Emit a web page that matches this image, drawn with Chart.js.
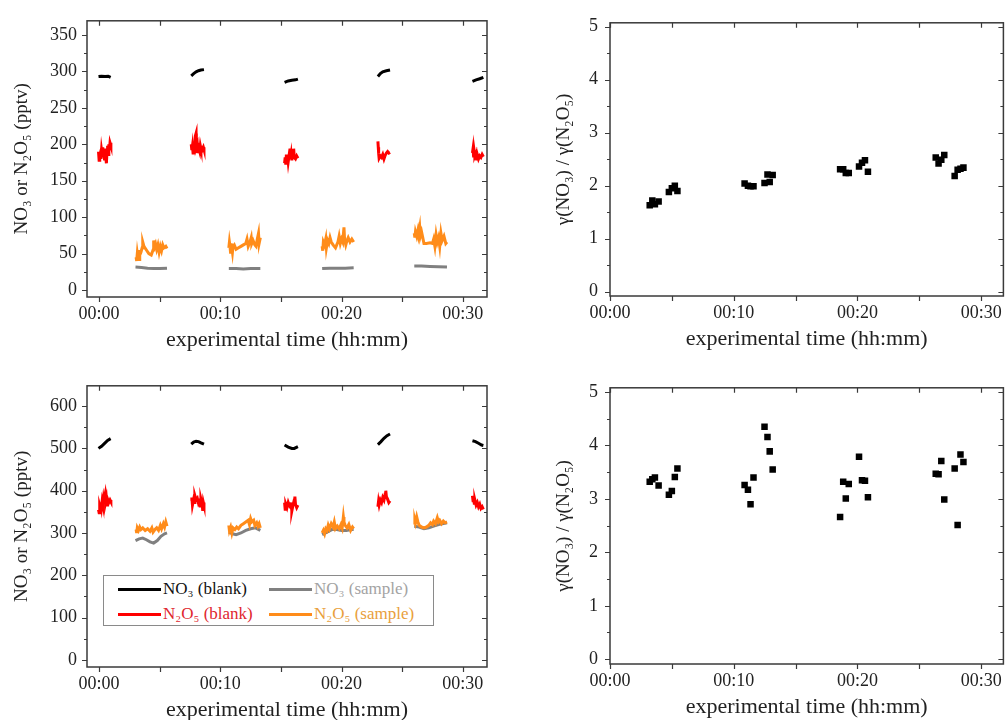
<!DOCTYPE html>
<html>
<head>
<meta charset="utf-8">
<script src="https://cdn.jsdelivr.net/npm/chart.js@4.4.1/dist/chart.umd.min.js"></script>
<style>
  body { margin: 0; width: 1008px; height: 720px; overflow: hidden; position: relative; background: #fff; font-family: "Liberation Serif", "Times New Roman", serif; }
  .panel { position: absolute; }
  #legend { position: absolute; left: 103px; top: 575px; width: 331px; height: 51px; border: 1px solid #8a8a8a; background: #fff; box-sizing: border-box; }
  .item { position: absolute; height: 20px; display: flex; align-items: center; font-size: 17px; white-space: nowrap; }
  .item span.ln { display: inline-block; width: 43px; height: 3px; margin-right: 2px; }
</style>
</head>
<body>
<div class="panel" style="left:0;top:0"><canvas id="tl" width="504" height="360"></canvas></div>
<div class="panel" style="left:540px;top:0"><canvas id="tr" width="468" height="359"></canvas></div>
<div class="panel" style="left:0;top:365px"><canvas id="bl" width="504" height="365"></canvas></div>
<div class="panel" style="left:540px;top:365px"><canvas id="br" width="468" height="362"></canvas></div>
<div id="legend"></div>
<script>
// ---- axes ----
const xTicks = [0, 5, 10, 15, 20, 25, 30];
const xLabels = ['00:00', '', '00:10', '', '00:20', '', '00:30'];
const yTicksTop = [0, 25, 50, 75, 100, 125, 150, 175, 200, 225, 250, 275, 300, 325, 350];
const yLabelsTop = ['0', '', '50', '', '100', '', '150', '', '200', '', '250', '', '300', '', '350'];
const yTicksBot = [0, 50, 100, 150, 200, 250, 300, 350, 400, 450, 500, 550, 600];
const yLabelsBot = ['0', '', '100', '', '200', '', '300', '', '400', '', '500', '', '600'];
const yTicksRatio = [0, 0.5, 1, 1.5, 2, 2.5, 3, 3.5, 4, 4.5, 5];
const yLabelsRatio = ['0', '', '1', '', '2', '', '3', '', '4', '', '5'];

const seriesNames = ['NO₃ (blank)', 'NO₃ (sample)', 'N₂O₅ (blank)', 'N₂O₅ (sample)'];
const lineColors = ['#000000', '#808080', '#ff0000', '#ff8c1a'];
const textColors = ['#111111', '#a3a3a3', '#e0262e', '#e9a03c'];

// ---- top left: [minutes, pptv], null value = gap ----
const no3BlankTop = [
  [-0.05, 293], [0.2, 293.5], [0.5, 293], [0.75, 293.5], [0.95, 292], [1.0, null],
  [7.6, 294], [7.8, 297], [8.0, 299.5], [8.2, 301], [8.4, 302], [8.65, 302.5], [8.7, null],
  [15.3, 285], [15.6, 287], [15.9, 288], [16.2, 288.5], [16.4, 289.5], [16.5, null],
  [23.0, 293], [23.2, 297], [23.4, 299.5], [23.7, 301], [24.0, 302], [24.1, null],
  [30.8, 286.5], [31.1, 288.5], [31.4, 290], [31.7, 292]
];
const no3SampleTop = [
  [3.0, 31.5], [3.5, 31], [4.0, 30], [4.5, 29.5], [5.0, 29.5], [5.6, 30], [5.7, null],
  [10.7, 29.5], [11.3, 29.5], [11.9, 29], [12.5, 29.5], [13.3, 29.5], [13.4, null],
  [18.4, 29.5], [19.0, 30], [19.6, 30], [20.3, 30], [21.0, 30.5], [21.1, null],
  [26.0, 33], [26.6, 33], [27.3, 32.5], [28.0, 32], [28.7, 31.5]
];
const n2o5BlankTop = [
  [-0.05, 190], [0.0, 178], [0.05, 185], [0.1, 188], [0.15, 180], [0.2, 192], [0.25, 186], [0.3, 196],
  [0.35, 184], [0.4, 190], [0.45, 178], [0.5, 194], [0.55, 182], [0.6, 174], [0.65, 190], [0.7, 198],
  [0.75, 186], [0.8, 200], [0.85, 192], [0.9, 202], [0.97, 198], [1.0, null],
  [7.6, 200], [7.65, 192], [7.7, 198], [7.75, 188], [7.8, 196], [7.85, 190], [7.9, 198], [7.95, 212],
  [8.0, 215], [8.02, 196], [8.1, 200], [8.15, 188], [8.2, 196], [8.3, 190], [8.35, 198], [8.4, 194],
  [8.5, 192], [8.6, 196], [8.65, 193], [8.7, null],
  [15.3, 174], [15.35, 182], [15.4, 172], [15.45, 186], [15.5, 178], [15.55, 184], [15.6, 176],
  [15.7, 188], [15.75, 194], [15.8, 180], [15.85, 186], [15.9, 178], [16.0, 190], [16.05, 194],
  [16.1, 182], [16.2, 180], [16.3, 184], [16.4, 181], [16.5, null],
  [23.0, 204], [23.03, 196], [23.06, 188], [23.1, 181], [23.2, 184], [23.3, 182], [23.4, 186],
  [23.5, 180], [23.6, 185], [23.7, 188], [23.8, 190], [23.9, 188], [24.0, 189], [24.1, null],
  [30.8, 188], [30.85, 194], [30.9, 182], [30.95, 190], [31.0, 184], [31.1, 188], [31.15, 178],
  [31.2, 186], [31.3, 180], [31.4, 184], [31.5, 182], [31.6, 186], [31.7, 183]
];
const n2o5SampleTop = [
  [3.05, 45], [3.1, 40], [3.15, 50], [3.2, 44], [3.25, 55], [3.3, 42], [3.35, 48], [3.45, 52],
  [3.55, 58], [3.6, 66], [3.7, 60], [3.9, 55], [4.1, 50], [4.3, 48], [4.45, 55], [4.5, 68],
  [4.55, 60], [4.65, 64], [4.75, 56], [4.85, 62], [4.95, 52], [5.05, 60], [5.15, 54], [5.25, 62],
  [5.35, 58], [5.5, 60], [5.6, 57], [5.7, null],
  [10.7, 58], [10.75, 66], [10.8, 60], [10.85, 50], [10.9, 64], [11.0, 52], [11.05, 60], [11.15, 62],
  [11.3, 56], [11.5, 58], [11.7, 60], [11.9, 62], [12.1, 64], [12.2, 70], [12.3, 60], [12.45, 66],
  [12.55, 72], [12.6, 64], [12.7, 68], [12.85, 62], [12.95, 60], [13.05, 70], [13.15, 78], [13.2, 64],
  [13.3, 72], [13.4, null],
  [18.4, 60], [18.45, 54], [18.5, 66], [18.6, 62], [18.7, 70], [18.75, 58], [18.85, 68], [18.95, 64],
  [19.05, 72], [19.15, 66], [19.3, 62], [19.5, 58], [19.7, 66], [19.8, 74], [19.9, 64], [20.0, 70],
  [20.1, 66], [20.2, 86], [20.25, 70], [20.35, 62], [20.45, 68], [20.55, 72], [20.7, 66], [20.85, 70],
  [21.0, 66], [21.1, null],
  [26.0, 78], [26.05, 72], [26.1, 80], [26.2, 74], [26.3, 82], [26.35, 76], [26.45, 86], [26.5, 74],
  [26.6, 80], [26.7, 72], [26.8, 64], [27.0, 64], [27.3, 65], [27.5, 64], [27.6, 70], [27.7, 60],
  [27.8, 76], [27.9, 66], [28.0, 72], [28.1, 60], [28.2, 78], [28.3, 68], [28.45, 74], [28.6, 64],
  [28.7, 66]
];

// ---- bottom left ----
const no3BlankBot = [
  [-0.05, 500], [0.2, 505], [0.45, 512], [0.7, 519], [0.95, 523], [1.0, null],
  [7.6, 510], [7.8, 515], [8.0, 517], [8.2, 516], [8.4, 513], [8.65, 510], [8.7, null],
  [15.3, 508], [15.6, 503], [15.9, 500], [16.1, 500], [16.4, 504], [16.5, null],
  [23.0, 509], [23.25, 516], [23.5, 524], [23.75, 530], [24.0, 534], [24.1, null],
  [30.8, 518], [31.05, 516], [31.3, 512], [31.55, 508], [31.7, 507]
];
const no3SampleBot = [
  [3.0, 282], [3.3, 286], [3.6, 288], [3.9, 284], [4.2, 279], [4.5, 276], [4.8, 282], [5.1, 292],
  [5.4, 298], [5.6, 300], [5.7, null],
  [10.7, 302], [11.0, 298], [11.3, 296], [11.7, 300], [12.1, 306], [12.5, 310], [12.9, 312], [13.3, 306], [13.4, null],
  [18.4, 296], [18.8, 302], [19.2, 308], [19.6, 308], [20.0, 306], [20.4, 306], [20.8, 308], [21.0, 308], [21.1, null],
  [26.0, 316], [26.4, 314], [26.8, 310], [27.2, 312], [27.6, 316], [28.0, 320], [28.4, 322], [28.7, 324]
];
const n2o5BlankBot = [
  [-0.05, 355], [0.0, 348], [0.05, 365], [0.1, 360], [0.15, 372], [0.2, 362], [0.25, 375], [0.3, 368],
  [0.35, 380], [0.4, 370], [0.45, 385], [0.5, 392], [0.55, 375], [0.6, 382], [0.65, 366], [0.7, 380],
  [0.8, 372], [0.9, 378], [0.97, 374], [1.0, null],
  [7.6, 376], [7.65, 384], [7.7, 366], [7.8, 380], [7.85, 372], [7.9, 388], [8.0, 378], [8.1, 382],
  [8.2, 370], [8.3, 376], [8.35, 364], [8.4, 380], [8.5, 368], [8.55, 352], [8.6, 372], [8.65, 366], [8.7, null],
  [15.3, 372], [15.35, 356], [15.4, 368], [15.5, 360], [15.6, 372], [15.7, 364], [15.8, 360], [15.85, 372],
  [15.9, 352], [16.0, 366], [16.1, 378], [16.15, 386], [16.2, 368], [16.3, 360], [16.4, 366], [16.5, null],
  [23.0, 362], [23.05, 374], [23.1, 366], [23.2, 378], [23.3, 372], [23.4, 384], [23.5, 378], [23.6, 392],
  [23.65, 400], [23.7, 386], [23.8, 380], [23.9, 372], [24.0, 376], [24.1, null],
  [30.8, 388], [30.85, 376], [30.9, 384], [30.95, 370], [31.0, 378], [31.1, 366], [31.2, 372], [31.3, 362],
  [31.4, 368], [31.5, 358], [31.6, 362], [31.7, 356]
];
const n2o5SampleBot = [
  [3.05, 308], [3.1, 300], [3.15, 312], [3.25, 306], [3.35, 314], [3.45, 308], [3.6, 312], [3.8, 306],
  [4.0, 310], [4.2, 304], [4.35, 312], [4.45, 302], [4.6, 308], [4.75, 312], [4.9, 306], [5.05, 318],
  [5.15, 310], [5.3, 322], [5.4, 314], [5.5, 326], [5.6, 316], [5.7, null],
  [10.7, 318], [10.75, 306], [10.85, 314], [10.95, 300], [11.05, 312], [11.2, 308], [11.35, 314], [11.5, 310],
  [11.7, 318], [11.9, 322], [12.1, 326], [12.3, 330], [12.4, 320], [12.5, 334], [12.6, 326], [12.75, 330],
  [12.85, 318], [13.0, 324], [13.1, 316], [13.2, 322], [13.3, 312], [13.4, null],
  [18.4, 300], [18.5, 306], [18.6, 298], [18.7, 310], [18.8, 306], [18.9, 318], [19.0, 310], [19.15, 322],
  [19.3, 314], [19.4, 326], [19.5, 310], [19.65, 316], [19.8, 310], [19.95, 320], [20.05, 312], [20.15, 338],
  [20.2, 326], [20.3, 318], [20.45, 312], [20.6, 320], [20.75, 306], [20.9, 314], [21.0, 310], [21.1, null],
  [26.0, 320], [26.05, 330], [26.1, 324], [26.2, 338], [26.3, 326], [26.4, 318], [26.6, 314], [26.8, 312],
  [27.0, 314], [27.2, 318], [27.35, 324], [27.5, 320], [27.6, 328], [27.75, 322], [27.9, 336], [28.0, 326],
  [28.1, 330], [28.25, 322], [28.4, 328], [28.55, 324], [28.7, 326]
];

// ---- ratio panels ----
const ratioTimes = [3.21, 3.42, 3.63, 3.93, 4.76, 5.0, 5.24, 5.45,
  10.88, 11.15, 11.36, 11.6, 12.49, 12.73, 12.91, 13.15,
  18.6, 18.85, 19.06, 19.3, 20.13, 20.37, 20.61, 20.85,
  26.33, 26.56, 26.78, 27.02, 27.86, 28.1, 28.33, 28.57];
const ratioTop = [1.63, 1.72, 1.65, 1.70, 1.88, 1.95, 2.0, 1.9,
  2.04, 2.0, 1.99, 1.99, 2.05, 2.21, 2.07, 2.2,
  2.31, 2.31, 2.24, 2.24, 2.36, 2.43, 2.48, 2.26,
  2.53, 2.42, 2.49, 2.58, 2.18, 2.30, 2.32, 2.34];
const ratioBot = [3.32, 3.37, 3.40, 3.25, 3.08, 3.15, 3.41, 3.57,
  3.26, 3.17, 2.90, 3.40, 4.35, 4.16, 3.89, 3.55,
  2.66, 3.32, 3.01, 3.28, 3.79, 3.35, 3.34, 3.03,
  3.47, 3.46, 3.71, 2.99, 3.57, 2.51, 3.83, 3.69];

const FONT = '"Liberation Serif", "Times New Roman", serif';
Chart.defaults.font.family = FONT;
Chart.defaults.color = '#222';
Chart.defaults.animation = false;

// frame + ticks like the original plot (outer ticks left/bottom, inner on top/right)
const framePlugin = {
  id: 'frame',
  afterDraw(chart) {
    const { ctx, chartArea: a } = chart;
    const xs = chart.scales.x, ys = chart.scales.y;
    ctx.save();
    ctx.strokeStyle = '#3a3a3a';
    ctx.lineWidth = 1.5;
    ctx.strokeRect(a.left, a.top, a.right - a.left, a.bottom - a.top);
    ctx.lineWidth = 1.2;
    ctx.beginPath();
    xs.ticks.forEach(t => {
      const p = Math.round(xs.getPixelForValue(t.value)) + 0.5;
      ctx.moveTo(p, a.bottom); ctx.lineTo(p, a.bottom + 5);
      ctx.moveTo(p, a.top); ctx.lineTo(p, a.top + 5);
    });
    ys.ticks.forEach(t => {
      const p = Math.round(ys.getPixelForValue(t.value)) + 0.5;
      const len = t.label ? 5 : 3;
      ctx.moveTo(a.left - len, p); ctx.lineTo(a.left, p);
      ctx.moveTo(a.right - len, p); ctx.lineTo(a.right, p);
    });
    ctx.stroke();
    ctx.restore();
  }
};

function xAxis(min, max) {
  return {
    type: 'linear', min, max, bounds: 'data',
    afterBuildTicks: s => { s.ticks = xTicks.map(v => ({ value: v })); },
    afterFit: s => { s.height = 63; },
    grid: { display: false, drawTicks: false }, border: { display: false },
    ticks: { autoSkip: false, maxRotation: 0, padding: 6, font: { size: 18 }, color: '#222',
      callback: (v, i) => xLabels[i] },
    title: { display: true, text: 'experimental time (hh:mm)', font: { size: 22 }, color: '#222',
      padding: { top: 0, bottom: 7 } }
  };
}

function yAxis(min, max, ticks, labels, width, title, titlePad, tickPad) {
  return {
    type: 'linear', min, max, bounds: 'data',
    afterBuildTicks: s => { s.ticks = ticks.map(v => ({ value: v })); },
    afterFit: s => { s.width = width; },
    grid: { display: false, drawTicks: false }, border: { display: false },
    ticks: { autoSkip: false, padding: tickPad, font: { size: 18 }, color: '#222',
      callback: (v, i) => labels[i] },
    title: { display: true, text: title, font: { size: 19 }, color: '#222',
      padding: { top: titlePad, bottom: 0 } }
  };
}

const toXY = arr => arr.map(p => ({ x: p[0], y: p[1] }));

function lineChart(id, series, yMin, yMax, yT, yL, padTop) {
  return new Chart(document.getElementById(id), {
    type: 'line',
    data: {
      datasets: series.map((s, i) => ({
        label: seriesNames[i],
        data: toXY(s),
        borderColor: lineColors[i],
        backgroundColor: lineColors[i],
        borderWidth: 3,
        pointRadius: 0,
        spanGaps: false,
        tension: 0,
        order: i === 3 ? 0 : i + 1
      }))
    },
    options: {
      responsive: false,
      devicePixelRatio: 1,
      layout: { padding: { left: 0, top: padTop, right: 17, bottom: 0 } },
      plugins: { legend: { display: false }, tooltip: { enabled: false } },
      scales: {
        x: xAxis(-1, 32),
        y: yAxis(yMin, yMax, yT, yL, 87, 'NO₃ or N₂O₅ (pptv)', 11, 10)
      }
    },
    plugins: [framePlugin]
  });
}

function ratioChart(id, values, yMin, yMax, padTop) {
  return new Chart(document.getElementById(id), {
    type: 'scatter',
    data: {
      datasets: [{
        data: ratioTimes.map((t, i) => ({ x: t, y: values[i] })),
        pointStyle: 'rect',
        pointRadius: 4.6,
        borderWidth: 0,
        backgroundColor: '#000'
      }]
    },
    options: {
      responsive: false,
      devicePixelRatio: 1,
      layout: { padding: { left: 0, top: padTop, right: 2, bottom: 0 } },
      plugins: { legend: { display: false }, tooltip: { enabled: false } },
      scales: {
        x: xAxis(0, 31.8),
        y: yAxis(yMin, yMax, yTicksRatio, yLabelsRatio, 70, 'γ(NO₃) / γ(N₂O₅)', 13, 12)
      }
    },
    plugins: [framePlugin]
  });
}

lineChart('tl', [no3BlankTop, no3SampleTop, n2o5BlankTop, n2o5SampleTop], -9.5, 369.5, yTicksTop, yLabelsTop, 15);
ratioChart('tr', ratioTop, -0.08, 5.07, 17);
const bl = lineChart('bl', [no3BlankBot, no3SampleBot, n2o5BlankBot, n2o5SampleBot], -17, 648, yTicksBot, yLabelsBot, 19);
ratioChart('br', ratioBot, -0.09, 5.08, 19);

// legend inside the lower-left plot
const legend = document.getElementById('legend');
bl.data.datasets.forEach((ds, i) => {
  const el = document.createElement('div');
  el.className = 'item';
  el.style.left = (i % 2 ? 165 : 14) + 'px';
  el.style.top = (i < 2 ? 3 : 28) + 'px';
  el.style.color = textColors[i];
  const ln = document.createElement('span');
  ln.className = 'ln';
  ln.style.background = ds.borderColor;
  el.appendChild(ln);
  el.appendChild(document.createTextNode(ds.label));
  legend.appendChild(el);
});
</script>
</body>
</html>
